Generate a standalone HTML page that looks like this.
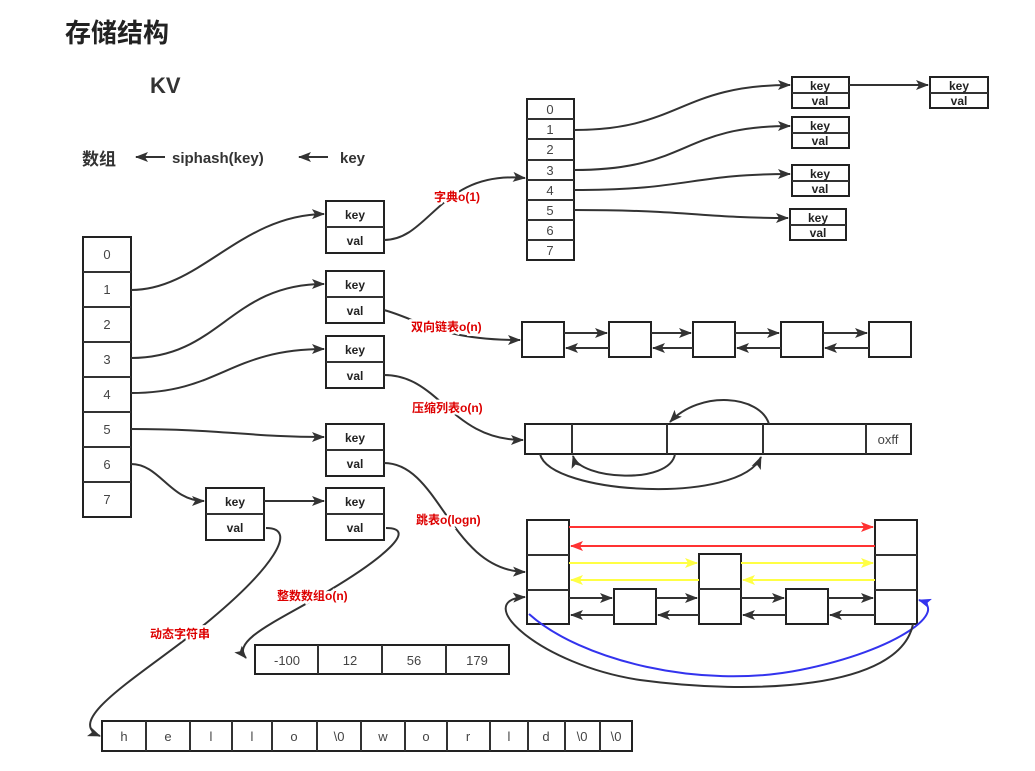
<!DOCTYPE html>
<html><head><meta charset="utf-8"><style>
body{margin:0;background:#fff}
svg{display:block}
text{font-family:"Liberation Sans","Noto Sans CJK SC",sans-serif}
.n{font-size:13px;fill:#444;text-anchor:middle}
.k{font-size:12px;font-weight:bold;fill:#222;text-anchor:middle}
.r{font-size:12px;font-weight:bold;fill:#d00;paint-order:stroke;stroke:#fff;stroke-width:5px}
.b{fill:#fff;stroke:#222;stroke-width:2}
.l{fill:none;stroke:#333;stroke-width:2}
</style></head><body>
<svg width="1035" height="771" viewBox="0 0 1035 771">
<defs>
<marker id="a" markerWidth="13" markerHeight="10" refX="12" refY="5" orient="auto" markerUnits="userSpaceOnUse"><path d="M0,0L13,5L0,10L3,5z" fill="#333"/></marker>
<marker id="ar" markerWidth="13" markerHeight="10" refX="12" refY="5" orient="auto" markerUnits="userSpaceOnUse"><path d="M0,0L13,5L0,10L3,5z" fill="#f33"/></marker>
<marker id="ay" markerWidth="13" markerHeight="10" refX="12" refY="5" orient="auto" markerUnits="userSpaceOnUse"><path d="M0,0L13,5L0,10L3,5z" fill="#ff4"/></marker>
<marker id="ab" markerWidth="13" markerHeight="10" refX="12" refY="5" orient="auto" markerUnits="userSpaceOnUse"><path d="M0,0L13,5L0,10L3,5z" fill="#33e"/></marker>
</defs>
<text x="65" y="42" style="font-size:26px;font-weight:bold;fill:#222">存储结构</text>
<text x="150" y="93" style="font-size:22px;font-weight:bold;fill:#333">KV</text>
<text x="82" y="165" style="font-size:17px;font-weight:bold;fill:#333">数组</text>
<text x="172" y="163" style="font-size:15px;font-weight:bold;fill:#333">siphash(key)</text>
<text x="340" y="163" style="font-size:15px;font-weight:bold;fill:#333">key</text>
<path class="l" d="M165,157H136" marker-end="url(#a)"/>
<path class="l" d="M328,157H299" marker-end="url(#a)"/>

<g>
<rect class="b" x="83" y="237" width="48" height="280"/>
<path class="l" d="M83,272H131M83,307H131M83,342H131M83,377H131M83,412H131M83,447H131M83,482H131"/>
<text class="n" x="107" y="259">0</text><text class="n" x="107" y="294">1</text><text class="n" x="107" y="329">2</text><text class="n" x="107" y="364">3</text><text class="n" x="107" y="399">4</text><text class="n" x="107" y="434">5</text><text class="n" x="107" y="469">6</text><text class="n" x="107" y="504">7</text>
</g>

<g>
<rect class="b" x="326" y="201" width="58" height="52"/><path class="l" d="M326,227H384"/>
<text class="k" x="355" y="219">key</text><text class="k" x="355" y="245">val</text>
<rect class="b" x="326" y="271" width="58" height="52"/><path class="l" d="M326,297H384"/>
<text class="k" x="355" y="289">key</text><text class="k" x="355" y="315">val</text>
<rect class="b" x="326" y="336" width="58" height="52"/><path class="l" d="M326,362H384"/>
<text class="k" x="355" y="354">key</text><text class="k" x="355" y="380">val</text>
<rect class="b" x="326" y="424" width="58" height="52"/><path class="l" d="M326,450H384"/>
<text class="k" x="355" y="442">key</text><text class="k" x="355" y="468">val</text>
<rect class="b" x="206" y="488" width="58" height="52"/><path class="l" d="M206,514H264"/>
<text class="k" x="235" y="506">key</text><text class="k" x="235" y="532">val</text>
<rect class="b" x="326" y="488" width="58" height="52"/><path class="l" d="M326,514H384"/>
<text class="k" x="355" y="506">key</text><text class="k" x="355" y="532">val</text>
</g>
<path class="l" d="M131,290C200,290 240,215 324,214" marker-end="url(#a)"/>
<path class="l" d="M131,358C220,358 230,284 324,284" marker-end="url(#a)"/>
<path class="l" d="M131,393C220,393 230,349 324,349" marker-end="url(#a)"/>
<path class="l" d="M131,429C220,429 250,437 324,437" marker-end="url(#a)"/>
<path class="l" d="M131,464C160,464 170,501 204,501" marker-end="url(#a)"/>
<path class="l" d="M264,501H324" marker-end="url(#a)"/>

<rect class="b" x="527" y="99" width="47" height="161"/>
<path class="l" d="M527,119H574M527,139H574M527,160H574M527,180H574M527,200H574M527,220H574M527,240H574"/>
<g><text class="n" x="550" y="114">0</text><text class="n" x="550" y="134">1</text><text class="n" x="550" y="154">2</text><text class="n" x="550" y="175">3</text><text class="n" x="550" y="195">4</text><text class="n" x="550" y="215">5</text><text class="n" x="550" y="235">6</text><text class="n" x="550" y="255">7</text></g>
<path class="l" d="M384,240C430,240 440,170 525,178" marker-end="url(#a)"/>
<text class="r" x="434" y="201">字典o(1)</text>
<g>
<rect class="b" x="792" y="77" width="57" height="31"/><path class="l" d="M792,93H849"/><text class="k" x="820" y="90">key</text><text class="k" x="820" y="105">val</text>
<rect class="b" x="930" y="77" width="58" height="31"/><path class="l" d="M930,93H988"/><text class="k" x="959" y="90">key</text><text class="k" x="959" y="105">val</text>
<rect class="b" x="792" y="117" width="57" height="31"/><path class="l" d="M792,133H849"/><text class="k" x="820" y="130">key</text><text class="k" x="820" y="145">val</text>
<rect class="b" x="792" y="165" width="57" height="31"/><path class="l" d="M792,181H849"/><text class="k" x="820" y="178">key</text><text class="k" x="820" y="193">val</text>
<rect class="b" x="790" y="209" width="56" height="31"/><path class="l" d="M790,225H846"/><text class="k" x="818" y="222">key</text><text class="k" x="818" y="237">val</text>
</g>
<path class="l" d="M574,130C680,130 680,85 790,85" marker-end="url(#a)"/>
<path class="l" d="M849,85H928" marker-end="url(#a)"/>
<path class="l" d="M574,170C690,170 680,126 790,126" marker-end="url(#a)"/>
<path class="l" d="M574,190C690,190 690,174 790,174" marker-end="url(#a)"/>
<path class="l" d="M574,210C690,210 700,218 788,218" marker-end="url(#a)"/>

<path class="l" d="M384,310C420,320 440,340 520,340" marker-end="url(#a)"/>
<text class="r" x="411" y="331">双向链表o(n)</text>
<rect class="b" x="522" y="322" width="42" height="35"/>
<rect class="b" x="609" y="322" width="42" height="35"/>
<rect class="b" x="693" y="322" width="42" height="35"/>
<rect class="b" x="781" y="322" width="42" height="35"/>
<rect class="b" x="869" y="322" width="42" height="35"/>
<path class="l" d="M564,333H607" marker-end="url(#a)"/><path class="l" d="M609,348H566" marker-end="url(#a)"/>
<path class="l" d="M651,333H691" marker-end="url(#a)"/><path class="l" d="M693,348H653" marker-end="url(#a)"/>
<path class="l" d="M735,333H779" marker-end="url(#a)"/><path class="l" d="M781,348H737" marker-end="url(#a)"/>
<path class="l" d="M823,333H867" marker-end="url(#a)"/><path class="l" d="M869,348H825" marker-end="url(#a)"/>

<path class="l" d="M384,375C440,375 450,440 523,440" marker-end="url(#a)"/>
<text class="r" x="412" y="412">压缩列表o(n)</text>
<rect class="b" x="525" y="424" width="386" height="30"/>
<path class="l" d="M572,424V454M667,424V454M763,424V454M866,424V454"/>
<text class="n" x="888" y="444">oxff</text>
<path class="l" d="M769,424C760,395 700,390 670,422" marker-end="url(#a)"/>
<path class="l" d="M675,454C670,485 580,480 573,456" marker-end="url(#a)"/>
<path class="l" d="M540,454C550,495 740,505 761,457" marker-end="url(#a)"/>

<path class="l" d="M384,463C440,463 450,570 525,572" marker-end="url(#a)"/>
<text class="r" x="416" y="524">跳表o(logn)</text>
<rect class="b" x="527" y="520" width="42" height="104"/><path class="l" d="M527,555H569M527,590H569"/>
<rect class="b" x="875" y="520" width="42" height="104"/><path class="l" d="M875,555H917M875,590H917"/>
<rect class="b" x="699" y="554" width="42" height="70"/><path class="l" d="M699,589H741"/>
<rect class="b" x="614" y="589" width="42" height="35"/>
<rect class="b" x="786" y="589" width="42" height="35"/>
<path d="M569,527H873" stroke="#f33" stroke-width="2" marker-end="url(#ar)"/>
<path d="M875,546H571" stroke="#f33" stroke-width="2" marker-end="url(#ar)"/>
<path d="M569,563H697" stroke="#ff4" stroke-width="2" marker-end="url(#ay)"/>
<path d="M741,563H873" stroke="#ff4" stroke-width="2" marker-end="url(#ay)"/>
<path d="M699,580H571" stroke="#ff4" stroke-width="2" marker-end="url(#ay)"/>
<path d="M875,580H743" stroke="#ff4" stroke-width="2" marker-end="url(#ay)"/>
<path class="l" d="M569,598H612" marker-end="url(#a)"/><path class="l" d="M614,615H571" marker-end="url(#a)"/>
<path class="l" d="M656,598H697" marker-end="url(#a)"/><path class="l" d="M699,615H658" marker-end="url(#a)"/>
<path class="l" d="M741,598H784" marker-end="url(#a)"/><path class="l" d="M786,615H743" marker-end="url(#a)"/>
<path class="l" d="M828,598H873" marker-end="url(#a)"/><path class="l" d="M875,615H830" marker-end="url(#a)"/>
<path d="M529,614C580,660 700,690 800,670C900,650 950,610 919,600" fill="none" stroke="#33e" stroke-width="2" marker-end="url(#ab)"/>
<path class="l" d="M913,624C900,690 750,695 640,680C540,665 470,600 525,597" marker-end="url(#a)"/>

<rect class="b" x="255" y="645" width="254" height="29"/>
<path class="l" d="M318,645V674M382,645V674M446,645V674"/>
<text class="n" x="287" y="665">-100</text><text class="n" x="350" y="665">12</text><text class="n" x="414" y="665">56</text><text class="n" x="477" y="665">179</text>
<path class="l" d="M386,528C420,528 380,560 330,590C280,620 230,640 246,658" marker-end="url(#a)"/>
<text class="r" x="277" y="600">整数数组o(n)</text>

<rect class="b" x="102" y="721" width="530" height="30"/>
<path class="l" d="M146,721V751M190,721V751M232,721V751M272,721V751M317,721V751M361,721V751M405,721V751M447,721V751M490,721V751M528,721V751M565,721V751M600,721V751"/>
<g><text class="n" x="124" y="741">h</text><text class="n" x="168" y="741">e</text><text class="n" x="211" y="741">l</text><text class="n" x="252" y="741">l</text><text class="n" x="294" y="741">o</text><text class="n" x="339" y="741">\0</text><text class="n" x="383" y="741">w</text><text class="n" x="426" y="741">o</text><text class="n" x="468" y="741">r</text><text class="n" x="509" y="741">l</text><text class="n" x="546" y="741">d</text><text class="n" x="582" y="741">\0</text><text class="n" x="616" y="741">\0</text></g>
<path class="l" d="M266,528C300,528 270,570 210,620C150,670 60,720 100,736" marker-end="url(#a)"/>
<text class="r" x="150" y="638">动态字符串</text>
</svg>
</body></html>
